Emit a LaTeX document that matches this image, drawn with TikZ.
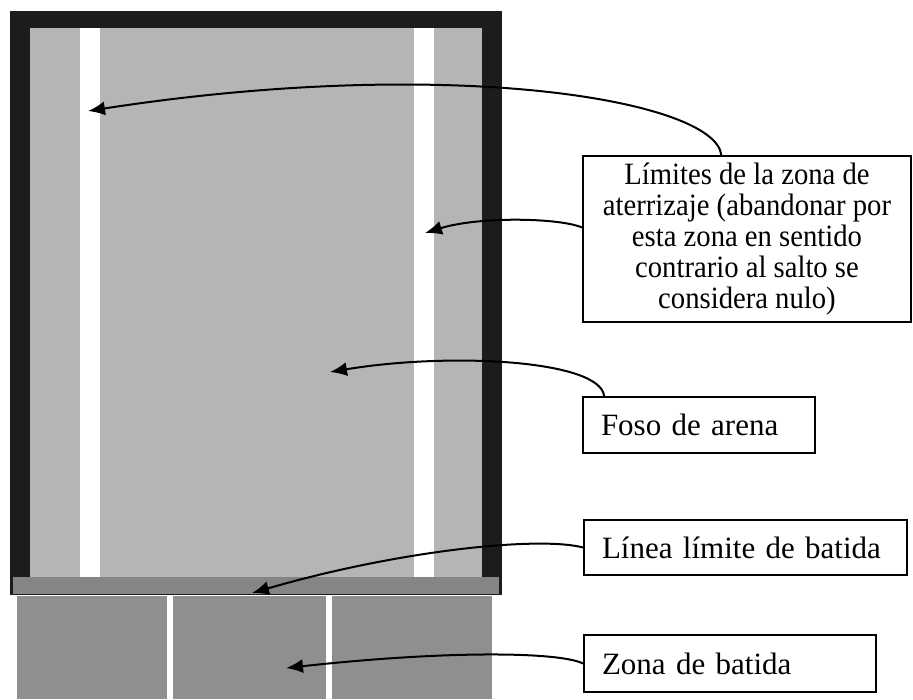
\documentclass[tikz,border=0pt]{standalone}
\usepackage{fontspec}
\setmainfont{Liberation Serif}
\newfontfamily\narrowserif[FakeStretch=0.925]{Liberation Serif}
\usetikzlibrary{arrows.meta}
\definecolor{frameblack}{HTML}{1C1C1C}
\definecolor{sandgray}{HTML}{B5B5B5}
\definecolor{boardgray}{HTML}{858585}
\definecolor{runwaygray}{HTML}{8F8F8F}
\tikzstyle{labelbox}=[%
  draw,
  line width=2pt,
  inner xsep=18pt,
  font=\fontsize{31}{33}\selectfont
]
\tikzstyle{pointer}=[%
  line width=2pt,
  -{Latex[length=17pt,width=14pt]}
]

\begin{document}
\begin{tikzpicture}[x=1pt, y=-1pt]
    \useasboundingbox (0,0) rectangle (913,699);

    % foso y marco
    \fill[frameblack] (10,11) rectangle (502,595);
    \fill[sandgray] (30,28) rectangle (482,577);
    \fill[white] (80,28) rectangle (100,577);
    \fill[white] (414,28) rectangle (434,577);
    % tabla de batida
    \fill[boardgray] (13,577) rectangle (499,594);
    % zona de batida
    \foreach \xa/\xb in {17/167, 173/326, 332/492} {%
      \fill[runwaygray] (\xa,596) rectangle (\xb,699);
    }

    \node[labelbox, inner xsep=5pt, minimum width=328pt, minimum height=166pt,
      align=center, font=\narrowserif\fontsize{31}{31}\selectfont] (lim) at (747,239)
      {Límites de la zona de\\aterrizaje (abandonar por\\esta zona en sentido\\contrario al salto se\\considera nulo)};
    \node[labelbox, minimum height=56pt, text width=196pt, align=left] (foso) at (699,425) {Foso de arena};
    \node[labelbox, minimum height=55pt, text width=287pt, align=left] (linea) at (745.5,547.5) {Línea límite de batida};
    \node[labelbox, minimum height=57pt, text width=256pt, align=left] (zona) at (730,663.5) {Zona de batida};

    \coordinate (stripetip) at (88,111);
    \coordinate (edgetip) at (425,233);
    \coordinate (pittip) at (330,372);
    \coordinate (boardtip) at (252,593);
    \coordinate (runwaytip) at (286,668);

    \draw[pointer] (lim.107) .. controls (715,100) and (450,55) .. (stripetip);
    \draw[pointer] (lim.176) .. controls (560,218) and (480,216) .. (edgetip);
    \draw[pointer] (foso.163) .. controls (600,360) and (450,352) .. (pittip);
    \draw[pointer] (linea.west) .. controls (540,536) and (400,550) .. (boardtip);
    \draw[pointer] (zona.west) .. controls (560,652) and (450,650) .. (runwaytip);
  \end{tikzpicture}
\end{document}
